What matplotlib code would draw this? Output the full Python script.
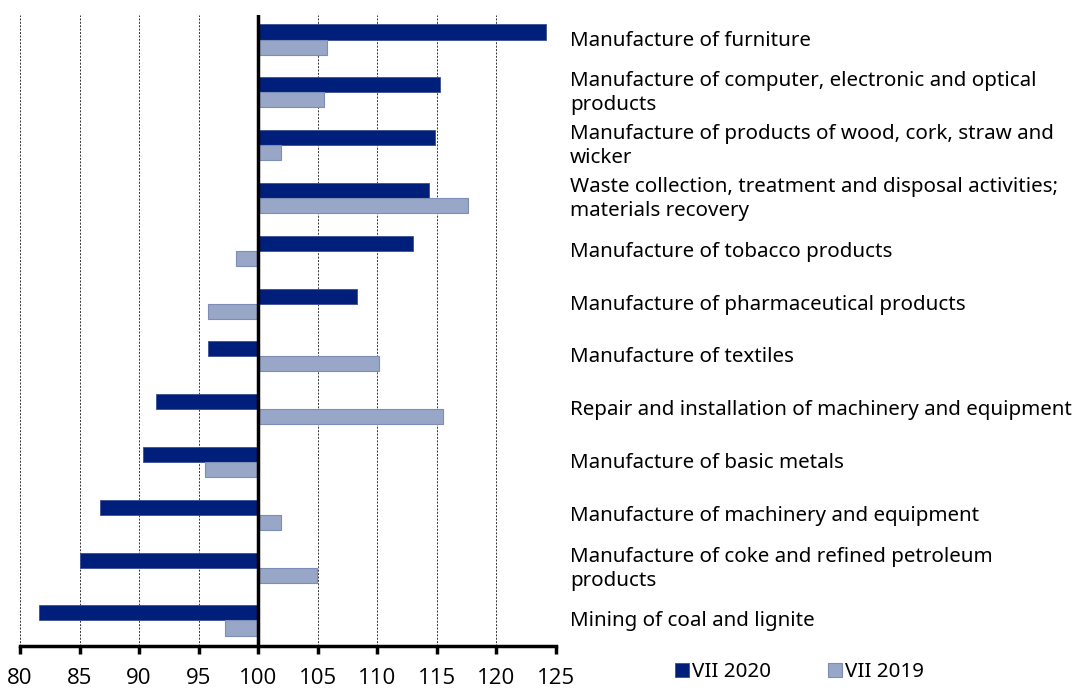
import numpy as np
import matplotlib.pyplot as plt
from matplotlib.transforms import blended_transform_factory, offset_copy

categories = [
    "Manufacture of furniture",
    "Manufacture of computer, electronic and optical\nproducts",
    "Manufacture of products of wood, cork, straw and\nwicker",
    "Waste collection, treatment and disposal activities;\nmaterials recovery",
    "Manufacture of tobacco products",
    "Manufacture of pharmaceutical products",
    "Manufacture of textiles",
    "Repair and installation of machinery and equipment",
    "Manufacture of basic metals",
    "Manufacture of machinery and equipment",
    "Manufacture of coke and refined petroleum\nproducts",
    "Mining of coal and lignite",
]
vii_2020 = [124.2, 115.3, 114.8, 114.3, 113.0, 108.3, 95.8, 91.4, 90.3, 86.7, 85.0, 81.6]
vii_2019 = [105.8, 105.5, 101.9, 117.6, 98.1, 95.8, 110.1, 115.5, 95.5, 101.9, 104.9, 97.2]

BASE = 100
DARK = "#001f7a"
LIGHT = "#98a6c8"

plt.rcParams["font.family"] = ["Noto Sans", "DejaVu Sans"]


def main():
    fig = plt.figure(figsize=(10.81, 6.89), dpi=100)
    ax = fig.add_axes([20 / 1081, 1 - 646 / 689, 536 / 1081, 631 / 689])

    y = np.arange(len(categories))
    h = 0.285
    a = np.array(vii_2020) - BASE
    b = np.array(vii_2019) - BASE
    ax.barh(y - h / 2, a, left=BASE, height=h, color=DARK, edgecolor="#3a4f95",
            linewidth=0.6, label="VII 2020", zorder=3)
    ax.barh(y + h / 2, b, left=BASE, height=h, color=LIGHT, edgecolor="#7d8db5",
            linewidth=0.8, label="VII 2019", zorder=3)

    ax.set_xlim(80, 125)
    ax.set_ylim(11.483, -0.464)
    ax.set_xticks(np.arange(80, 126, 5))
    ax.set_yticks([])
    ax.grid(axis="x", linestyle=(0, (2, 1.5)), color="#333333", linewidth=0.7, zorder=0)
    ax.axvline(BASE, color="black", linewidth=2.5, zorder=4)

    for side in ["left", "right", "top"]:
        ax.spines[side].set_visible(False)
    ax.spines["bottom"].set_linewidth(2.5)
    ax.tick_params(axis="x", direction="out", length=6, width=2.5, pad=10)
    for lab in ax.get_xticklabels():
        lab.set_fontfamily(["Open Sans", "DejaVu Sans"])
        lab.set_fontsize(16)

    tr = blended_transform_factory(ax.transAxes, ax.transData)
    tr = offset_copy(tr, fig=fig, x=0, y=-1, units="dots")
    for yi, name in zip(y, categories):
        ax.text((570 - 20) / 536, yi, name, transform=tr, ha="left", va="center",
                fontsize=14.8, linespacing=1.25)

    ax.legend(loc="lower left", bbox_to_anchor=((667 - 20) / 536, -0.07),
              ncol=2, frameon=False, fontsize=14.8, handlelength=0.65, handleheight=0.65,
              handletextpad=0.15, columnspacing=2.8, borderaxespad=0)

    fig.savefig("out.png", dpi=100)


if __name__ == "__main__":
    main()
